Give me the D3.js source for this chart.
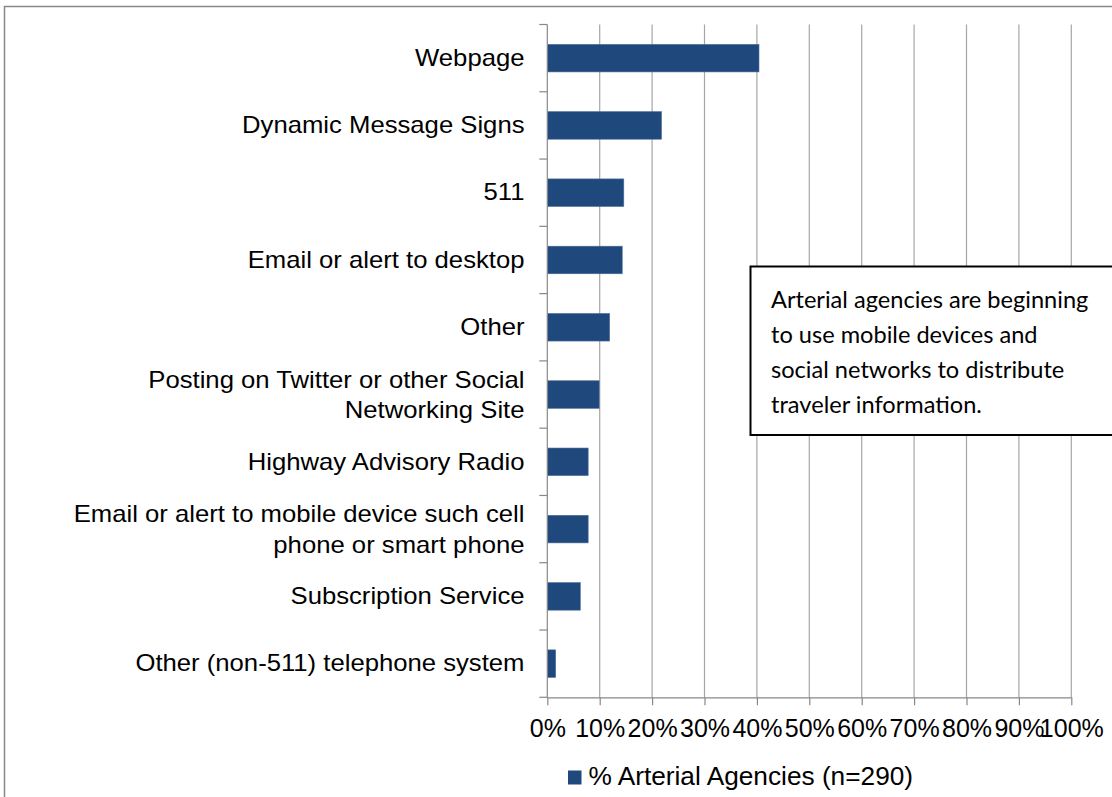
<!DOCTYPE html>
<html><head><meta charset="utf-8">
<script src="https://cdn.jsdelivr.net/npm/d3@7"></script>
<style>
html,body{margin:0;padding:0;background:#fff;}
svg{display:block;}
</style></head>
<body>
<svg id="chart" width="1112" height="797"></svg>
<script>
const categories = [
  "Webpage",
  "Dynamic Message Signs",
  "511",
  "Email or alert to desktop",
  "Other",
  "Posting on Twitter or other Social|Networking Site",
  "Highway Advisory Radio",
  "Email or alert to mobile device such cell|phone or smart phone",
  "Subscription Service",
  "Other (non-511) telephone system"
];
const values = [40.4, 21.8, 14.6, 14.3, 11.9, 9.9, 7.8, 7.8, 6.3, 1.6];
const xTicks = [0, 10, 20, 30, 40, 50, 60, 70, 80, 90, 100];
const seriesName = "% Arterial Agencies (n=290)";
const noteLines = [
  "Arterial agencies are beginning",
  "to use mobile devices and",
  "social networks to distribute",
  "traveler information."
];

(function(){
const svg = d3.select("#chart");
const barColor = "#1f497d";
const pL = 547.3, pR = 1071.3, pT = 24.5, pB = 697.3;
const font = "'Liberation Sans', Arial, sans-serif";

// outer frame
svg.append("rect").attr("x", 4.5).attr("y", 6.5).attr("width", 1200).attr("height", 900)
  .attr("fill", "none").attr("stroke", "#888").attr("stroke-width", 1.5);

const x = d3.scaleLinear().domain([0, 100]).range([pL, pR]);
const y = d3.scaleBand().domain(categories).range([pT, pB]).paddingInner(0.59).paddingOuter(0.295);
const yb = d3.scaleBand().domain(categories).range([pT, pB]);

// gridlines
svg.append("g").selectAll("line").data(xTicks.slice(1)).join("line")
  .attr("x1", d => x(d)).attr("x2", d => x(d))
  .attr("y1", pT).attr("y2", pB)
  .attr("stroke", "#a6a6a6").attr("stroke-width", 1.2);

// bars
svg.append("g").selectAll("rect").data(values).join("rect")
  .attr("x", x(0))
  .attr("y", (d, i) => y(categories[i]))
  .attr("width", d => x(d) - x(0))
  .attr("height", y.bandwidth())
  .attr("fill", barColor)
  .attr("stroke", "#4f6f99").attr("stroke-width", 0.6);

// x axis
const xAxis = d3.axisBottom(x).tickValues(xTicks).tickFormat(d => d + "%").tickSize(8).tickSizeOuter(0);
const gx = svg.append("g").attr("transform", `translate(0,${pB})`).call(xAxis);
gx.select(".domain").attr("stroke", "#888").attr("stroke-width", 1.2);
gx.selectAll(".tick line").attr("stroke", "#888").attr("stroke-width", 1.2);
gx.selectAll(".tick text").attr("font-family", font)
  .attr("font-size", 25).attr("fill", "#000").attr("dy", null).attr("y", 39.5);

// y axis
const gy = svg.append("g").attr("transform", `translate(${pL},0)`);
gy.append("line").attr("x1", 0).attr("x2", 0).attr("y1", pT).attr("y2", pB)
  .attr("stroke", "#888").attr("stroke-width", 1.2);
const bounds = categories.map(c => yb(c)).concat([pB]);
gy.selectAll("line.tk").data(bounds).join("line").attr("class", "tk")
  .attr("x1", -8).attr("x2", 0).attr("y1", d => d).attr("y2", d => d)
  .attr("stroke", "#888").attr("stroke-width", 1.2);

const lab = svg.append("g").attr("transform", "translate(524.5,0) scale(1.07,1)")
  .attr("font-family", font)
  .attr("font-size", 24).attr("fill", "#000").attr("text-anchor", "end");
categories.forEach(c => {
  const lines = c.split("|");
  const cy = yb(c) + yb.bandwidth() / 2;
  const lh = 30.5;
  const t = lab.append("text").attr("x", 0);
  lines.forEach((l, j) => {
    t.append("tspan").attr("x", 0)
      .attr("y", cy + (j - (lines.length - 1) / 2) * lh + (lines.length > 1 ? 8.6 : 7.8))
      .text(l);
  });
});

// legend
svg.append("rect").attr("x", 568).attr("y", 770.5).attr("width", 13.5).attr("height", 14).attr("fill", barColor);
svg.append("g").attr("transform", "translate(588.5,785) scale(1.05,1)")
  .append("text").attr("x", 0).attr("y", 0)
  .attr("font-family", font).attr("font-size", 25).attr("fill", "#000")
  .text(seriesName);

// annotation box
svg.append("rect").attr("x", 750.5).attr("y", 266.5).attr("width", 420).attr("height", 168.5)
  .attr("fill", "#fff").attr("stroke", "#000").attr("stroke-width", 2);
const nt = svg.append("g").attr("font-family", "Lato, 'Open Sans', sans-serif").attr("font-size", 23.6).attr("fill", "#000");
noteLines.forEach((l, i) => {
  nt.append("text").attr("x", 771).attr("y", 308 + i * 35).text(l);
});
})();
</script>
</body></html>
